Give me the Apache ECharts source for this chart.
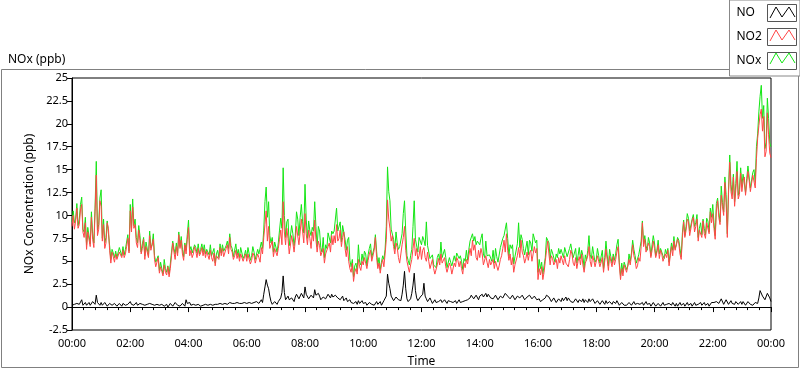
<!DOCTYPE html>
<html><head><meta charset="utf-8">
<script src="https://cdn.jsdelivr.net/npm/echarts@6/dist/echarts.min.js"></script>
<style>html,body{margin:0;padding:0;background:#fff;}#c{width:800px;height:369px;}</style>
</head><body><div id="c"></div>
<script>
// ---- data: samples every 5 minutes (…Values) plus the readings 2.5 minutes later (…Mid) ----
const stepMinutes = 5;
const seriesNames = ['NO', 'NO2', 'NOx'];
const timeLabels = ['00:00','02:00','04:00','06:00','08:00','10:00','12:00','14:00','16:00','18:00','20:00','22:00','00:00'];
const yTickValues = [-2.5,0,2.5,5,7.5,10,12.5,15,17.5,20,22.5,25];

const noValues = [
0.2,0.3,0.4,0.3,0.8,0.3,0.2,0.5,0.4,0.6,1.3,0.4,
0.5,0.3,0.4,0.2,0.5,0.3,0.4,0.2,0.3,0.4,0.2,0.3,
0.6,0.4,0.3,0.2,0.4,0.3,0.2,0.3,0.4,0.3,0.2,0.3,
0.2,0.3,0.1,0.3,0.2,0.2,0.3,0.4,0.3,0.2,0.3,0.8,
0.3,0.2,0.3,0.2,0.3,0.1,0.2,0.3,0.2,0.3,0.2,0.3,
0.3,0.4,0.3,0.4,0.3,0.5,0.4,0.4,0.5,0.4,0.4,0.5,
0.4,0.5,0.4,0.5,0.6,0.4,0.8,1.4,3.0,2.0,0.6,0.4,
0.5,0.6,1.0,3.4,0.8,1.2,0.6,0.9,1.1,1.4,1.0,1.3,
2.2,1.2,1.0,1.5,1.9,1.1,1.2,0.9,1.3,1.0,1.2,1.4,
1.0,1.5,1.2,0.9,0.7,1.0,0.6,0.5,0.4,0.6,0.7,0.5,
0.4,0.5,0.3,0.6,0.5,0.4,0.3,0.6,0.4,0.5,3.6,2.0,
1.0,0.8,1.2,1.0,1.4,3.9,0.9,0.6,1.5,3.7,1.0,0.8,
1.0,2.6,0.9,0.8,0.7,0.6,0.5,0.6,0.8,0.5,0.6,0.7,
0.6,0.5,0.7,0.6,0.5,0.6,0.7,0.8,1.0,1.2,1.0,1.1,
1.2,1.4,1.3,1.1,1.3,1.2,1.0,1.1,1.0,1.3,1.2,1.5,
1.2,1.0,1.1,0.9,1.3,1.0,1.1,0.8,1.0,1.2,0.9,1.1,
0.7,0.6,0.8,1.0,1.5,0.9,0.7,0.8,0.6,0.9,1.0,0.8,
0.7,0.9,0.8,0.6,0.7,0.8,0.6,0.5,0.7,0.9,0.6,0.7,
0.5,0.6,0.4,0.5,0.7,0.4,0.5,0.6,0.4,0.5,0.3,0.4,
0.4,0.3,0.5,0.4,0.3,0.4,0.3,0.5,0.4,0.3,0.4,0.3,
0.3,0.2,0.4,0.3,0.2,0.3,0.4,0.2,0.3,0.4,0.3,0.2,
0.4,0.3,0.2,0.4,0.3,0.2,0.3,0.5,0.3,0.2,0.4,0.3,
0.3,0.4,0.8,0.5,0.7,0.4,0.6,0.5,0.4,0.3,0.5,0.4,
0.3,0.4,0.3,0.5,0.4,0.3,0.6,1.0,2.0,1.4,0.9,1.6,
0.6];
const noMid = [
0.4,0.1,0.2,0.5,0.2,0.5,0.4,0.2,0.6,0.3,0.5,0.2,
0.2,0.5,0.1,0.4,0.2,0.4,0.1,0.4,0.1,0.2,0.4,0.1,
0.3,0.2,0.5,0.4,0.2,0.1,0.4,0.1,0.2,0.5,0.4,0.1,
0.4,0.1,0.3,0.0,0.4,0.1,0.5,0.2,0.1,0.4,0.1,0.4,
0.5,0.4,0.1,0.4,0.1,0.3,0.4,0.1,0.4,0.1,0.4,0.1,
0.1,0.2,0.5,0.2,0.5,0.3,0.2,0.6,0.3,0.6,0.2,0.3,
0.6,0.3,0.6,0.3,0.4,0.6,0.5,2.2,2.4,1.2,0.3,0.6,
0.3,0.8,1.6,1.6,0.6,0.8,1.0,0.6,1.4,0.9,1.5,1.0,
1.4,0.9,1.3,1.0,1.3,1.5,0.8,1.1,0.9,1.4,1.0,1.1,
1.3,1.0,0.8,1.2,0.9,0.6,0.8,0.3,0.6,0.3,0.4,0.7,
0.6,0.2,0.5,0.3,0.2,0.6,0.5,0.2,0.7,1.2,2.6,1.2,
0.7,1.1,0.8,0.7,2.4,2.0,0.6,0.9,2.4,1.8,0.7,1.1,
1.4,1.2,0.6,1.0,0.4,0.8,0.7,0.4,0.5,0.8,0.4,0.5,
0.8,0.7,0.4,0.8,0.7,0.4,0.9,0.6,1.3,0.9,1.3,0.8,
1.0,1.1,1.5,1.4,1.0,0.9,1.3,0.8,1.2,1.0,1.5,1.2,
0.9,1.3,0.8,1.2,1.0,1.3,0.8,1.1,1.3,0.9,1.2,0.8,
0.9,0.4,0.6,1.3,1.1,0.6,1.0,0.5,0.9,0.6,0.7,1.1,
1.0,0.6,0.5,0.9,0.5,0.6,0.9,0.8,0.5,0.6,0.9,0.4,
0.7,0.3,0.7,0.3,0.4,0.6,0.3,0.4,0.7,0.2,0.5,0.2,
0.2,0.5,0.2,0.6,0.5,0.2,0.5,0.2,0.6,0.5,0.1,0.5,
0.1,0.4,0.1,0.5,0.4,0.1,0.2,0.5,0.1,0.1,0.5,0.4,
0.1,0.5,0.4,0.1,0.5,0.4,0.1,0.2,0.5,0.4,0.1,0.5,
0.5,0.6,0.4,0.9,0.3,0.8,0.3,0.7,0.2,0.6,0.3,0.6,
0.6,0.2,0.6,0.3,0.2,0.5,0.4,1.8,1.2,0.8,1.5,1.0];

const no2Values = [
8.8,8.5,10.8,9.0,11.2,7.6,6.3,8.0,9.8,6.5,14.4,8.5,
11.0,9.0,7.0,8.6,4.8,5.5,5.8,5.1,6.0,6.2,5.8,7.5,
10.5,10.9,9.0,6.5,7.3,6.4,5.2,6.6,7.8,6.3,5.2,4.6,
3.7,3.9,4.6,3.5,3.3,5.6,6.0,6.6,7.9,7.3,5.1,5.8,
8.7,6.2,5.8,6.1,6.4,5.9,5.6,5.4,6.0,6.2,5.0,4.5,
5.8,6.5,6.4,5.6,6.8,7.6,6.0,5.6,5.3,5.0,6.0,5.2,
5.0,5.2,5.1,5.6,5.0,5.4,6.5,7.6,10.5,8.8,6.2,5.5,
6.6,6.4,8.4,11.5,6.8,7.5,6.0,7.0,7.3,8.6,8.2,8.3,
10.2,6.8,7.5,8.2,9.5,6.0,6.7,5.5,4.8,5.7,7.0,7.8,
7.8,9.0,7.5,6.6,8.2,5.5,5.0,3.8,2.8,4.2,5.2,4.0,
4.6,4.8,5.1,6.2,4.8,7.6,4.2,3.7,5.2,5.8,11.7,8.6,
7.8,5.8,6.5,4.8,6.8,8.8,5.0,3.8,5.2,7.5,6.4,5.6,
5.2,6.5,5.0,5.0,4.4,4.2,3.8,5.3,5.8,4.6,4.4,3.9,
4.4,3.8,4.4,5.1,5.0,3.6,4.3,4.7,6.4,7.3,6.8,5.1,
5.4,5.8,4.8,4.9,5.2,4.5,4.2,4.8,4.5,5.6,7.3,8.0,
5.1,4.6,3.8,4.4,6.5,7.3,5.6,5.3,5.1,6.2,5.8,5.9,
3.0,3.5,3.0,5.0,7.2,4.6,5.3,4.4,4.2,4.8,5.4,5.6,
5.0,5.2,5.8,4.5,4.2,5.5,5.8,3.8,4.6,6.6,4.4,5.1,
4.5,5.0,4.4,3.8,6.3,4.0,5.0,5.5,5.2,6.6,3.0,3.4,
4.4,4.0,4.6,6.8,5.1,4.5,5.0,9.2,7.4,5.8,6.6,6.2,
6.4,6.0,5.3,5.8,4.8,5.4,4.5,6.6,7.2,6.3,7.0,5.2,
9.3,8.4,9.3,8.0,9.8,8.8,7.2,8.6,9.4,7.5,9.0,10.4,
10.2,7.4,11.6,9.0,11.0,13.6,7.6,15.8,11.8,11.0,14.8,12.3,
12.6,14.2,13.5,13.8,12.4,14.6,16.2,19.8,21.6,20.8,17.0,18.8,
16.3];
const no2Mid = [
10.0,9.4,8.6,10.6,8.2,9.2,8.2,6.6,7.4,10.4,7.8,11.6,
7.2,6.4,9.2,6.2,6.0,4.9,5.2,6.0,5.4,5.4,6.6,5.9,
8.2,8.6,7.0,8.4,5.8,7.4,6.6,5.4,6.2,7.4,4.4,5.4,
4.4,3.4,3.8,4.4,4.2,7.0,5.2,5.6,6.4,5.8,6.8,7.4,
5.6,5.4,6.6,5.4,5.6,6.5,6.3,6.1,5.2,5.4,5.9,5.6,
5.2,5.6,5.5,6.4,5.8,6.3,5.2,6.2,5.9,5.8,5.0,5.8,
5.8,4.7,5.9,4.8,5.8,4.9,5.8,9.0,7.2,6.4,7.2,6.4,
5.6,7.4,6.8,8.2,8.6,5.8,7.8,6.0,8.8,6.8,9.6,7.0,
8.0,8.4,6.4,7.2,7.4,7.2,5.6,6.4,5.8,6.6,6.0,6.8,
7.0,7.2,8.4,7.6,6.4,6.6,4.2,4.8,3.8,3.6,4.4,5.0,
5.4,4.2,5.8,5.0,6.2,5.4,4.8,4.6,4.4,7.4,9.6,7.2,
6.6,7.0,5.4,5.8,7.6,6.2,4.4,4.6,6.4,5.6,5.2,6.6,
6.2,5.4,6.0,4.2,5.2,3.6,4.6,4.6,4.8,5.4,3.8,4.8,
3.6,4.8,5.4,4.4,4.2,4.8,5.2,5.6,5.6,6.2,5.4,6.2,
6.4,4.6,5.6,4.3,4.6,5.2,5.0,4.0,5.2,6.4,6.0,6.2,
5.8,5.4,4.6,5.6,5.4,6.0,4.8,6.0,5.9,5.0,6.6,6.4,
4.2,4.4,3.8,6.2,5.8,5.6,4.6,5.2,5.4,5.6,4.6,4.8,
4.4,6.2,4.8,5.4,5.0,4.6,4.6,4.8,5.6,5.0,5.6,4.4,
5.6,4.4,5.4,5.0,5.2,5.6,4.4,4.6,6.0,4.6,4.2,4.6,
3.8,5.2,5.6,5.6,4.2,5.4,6.6,6.6,6.0,7.0,5.4,7.2,
5.4,6.8,6.2,5.0,5.8,6.2,5.6,5.6,6.2,7.4,5.8,7.6,
7.6,9.6,7.8,9.4,8.2,9.6,8.4,7.6,8.0,9.2,8.0,9.2,
8.6,10.6,9.8,12.2,10.0,11.4,12.4,12.6,14.2,12.8,11.8,14.6,
13.8,12.2,14.8,12.6,14.4,13.0,18.4,21.0,19.2,16.4,21.2,16.8];

const noxValues = [
9.3,9.2,11.3,9.6,12.0,8.2,6.8,8.6,10.4,7.0,15.9,9.0,
12.8,9.6,7.6,9.4,5.2,5.9,6.1,5.4,6.5,6.6,6.3,7.9,
11.2,11.8,9.6,7.0,7.8,6.9,5.6,7.0,8.3,6.8,5.6,5.0,
4.0,4.2,5.2,3.8,3.6,6.0,6.4,7.0,8.2,7.7,5.5,6.2,
9.5,6.6,6.1,6.5,6.9,6.3,6.0,5.8,6.4,6.8,5.4,4.8,
6.2,6.9,6.8,6.0,7.2,8.0,6.4,6.2,5.7,5.4,6.5,5.6,
5.4,5.8,5.6,6.0,5.4,5.8,7.1,8.4,13.1,11.5,7.0,6.0,
7.0,7.0,9.7,15.2,7.6,9.6,6.6,8.0,7.8,9.6,9.8,9.3,
13.4,7.5,8.3,8.7,11.5,6.6,8.3,6.0,5.4,6.4,8.3,8.3,
8.3,10.8,8.2,7.1,9.0,6.2,7.6,4.4,3.3,4.8,6.8,4.6,
5.0,5.8,5.7,6.9,5.2,7.9,4.6,4.1,5.6,6.3,15.3,11.6,
8.5,6.3,7.0,6.6,8.0,11.6,5.6,4.6,6.3,11.6,7.2,7.6,
6.8,7.3,9.3,6.6,5.2,4.6,4.3,5.8,7.1,5.2,5.4,4.5,
4.9,4.4,5.0,5.8,5.6,4.1,5.0,5.1,7.2,8.0,7.7,7.2,
6.8,8.0,5.4,5.6,5.7,5.0,4.8,5.5,5.0,6.5,7.8,9.2,
5.6,6.4,4.7,5.3,9.2,7.9,6.4,5.8,5.7,7.0,8.0,7.0,
3.8,4.2,3.6,5.4,7.8,5.3,5.9,4.9,5.4,5.8,6.4,6.5,
5.5,6.4,6.1,5.2,4.8,6.5,6.2,4.2,5.1,7.8,5.3,5.7,
5.2,5.6,4.9,4.2,7.2,4.5,5.5,5.8,5.8,7.4,3.4,3.8,
4.8,4.5,5.0,7.3,5.6,4.9,5.5,9.4,7.8,6.2,7.0,6.8,
7.0,6.2,5.8,6.0,5.3,5.8,4.9,7.0,7.7,6.8,7.3,5.5,
9.5,8.8,9.7,8.5,10.1,9.2,7.6,9.2,9.6,7.9,9.4,10.8,
11.2,7.8,11.9,9.3,11.4,14.2,8.0,16.6,12.3,11.5,15.9,12.8,
13.2,14.6,14.0,14.2,12.8,15.0,17.5,21.3,24.2,22.0,18.0,20.6,
17.5];
const noxMid = [
10.5,9.6,8.9,11.2,8.5,9.8,8.7,6.9,8.0,10.8,8.4,11.9,
7.5,7.0,9.4,6.7,6.3,5.4,5.4,6.5,5.6,5.7,7.1,6.1,
8.6,8.9,7.6,8.9,6.0,7.6,7.1,5.6,6.5,8.0,4.9,5.6,
4.9,3.6,4.2,4.5,4.7,7.2,5.8,5.9,6.6,6.3,7.0,7.9,
6.2,5.9,6.8,5.9,5.8,6.9,6.8,6.3,5.7,5.6,6.4,5.8,
5.4,5.9,6.1,6.7,6.4,6.7,5.5,6.9,6.3,6.5,5.3,6.2,
6.5,5.1,6.6,5.2,6.3,5.6,6.4,11.5,9.8,7.8,7.6,7.1,
6.0,8.4,8.6,10.0,9.3,6.7,8.9,6.7,10.4,7.8,11.2,8.1,
9.6,9.4,7.8,8.3,8.8,8.8,6.5,7.6,6.8,8.1,7.0,8.0,
8.4,8.3,9.3,8.9,7.4,7.3,5.1,5.2,4.5,4.0,4.9,5.8,
6.1,4.5,6.4,5.4,6.5,6.1,5.4,4.9,5.2,8.8,12.6,8.5,
7.4,8.2,6.3,6.5,10.2,8.3,5.1,5.6,8.8,7.4,6.0,7.8,
7.7,6.7,6.7,5.3,5.7,4.5,5.4,5.1,5.4,6.3,4.3,5.4,
4.5,5.6,5.9,5.3,5.0,5.3,6.2,6.3,7.0,7.2,6.8,7.1,
7.5,5.8,7.2,5.8,5.7,6.2,6.4,4.9,6.5,7.5,7.6,7.5,
6.8,6.8,5.5,6.9,6.5,7.4,5.7,7.2,7.3,6.1,7.9,7.3,
5.2,4.9,4.5,7.6,7.0,6.3,5.7,5.8,6.4,6.3,5.4,6.0,
5.5,6.9,5.4,6.4,5.6,5.3,5.6,5.7,6.2,5.7,6.6,4.9,
6.4,4.8,6.2,5.4,5.7,6.3,4.8,5.1,6.8,4.9,4.8,4.9,
4.1,5.8,5.9,6.3,4.8,5.7,7.2,6.9,6.7,7.6,5.6,7.8,
5.6,7.3,6.4,5.6,6.3,6.4,5.9,6.2,6.4,7.6,6.4,8.1,
7.8,10.2,8.3,9.6,8.8,10.1,8.6,7.9,8.6,9.7,8.2,9.8,
9.2,11.3,10.3,13.2,10.4,12.3,12.8,13.4,14.5,13.5,12.2,15.2,
14.5,12.5,15.4,13.0,14.7,13.6,18.9,23.0,20.6,17.3,22.8,17.9];

// ---- styling ----
const FONT = 'Noto Sans';
const COLOR_NO = '#000000';
const COLOR_NO2 = '#ff4646';
const COLOR_NOX = '#14e614';

// interleave the 5-minute readings with the readings taken half a step later
function toPairs(onStep, halfStep) {
  const out = [];
  for (let i = 0; i < onStep.length; i++) {
    out.push([i * stepMinutes, onStep[i]]);
    if (i < halfStep.length) out.push([i * stepMinutes + stepMinutes / 2, halfStep[i]]);
  }
  return out;
}

const chart = echarts.init(document.getElementById('c'), null, {renderer: 'canvas'});

const zig = [[2,14],[8,3],[14,13],[21,3],[27,13]];
function zigLine(top, color) {
  return {
    type: 'polyline', z: 100, silent: true,
    shape: {points: zig.map(p => [768 + p[0], top + p[1]])},
    style: {stroke: color, lineWidth: 1, fill: null}
  };
}

const option = {
  animation: false,
  backgroundColor: '#fff',
  textStyle: {fontFamily: FONT},
  title: {
    text: 'NOx (ppb)', left: 3, top: 49,
    textStyle: {fontFamily: FONT, fontSize: 12, fontWeight: 'normal', color: '#000'}
  },
  legend: {
    data: seriesNames, orient: 'vertical', right: 0, top: 0, align: 'right',
    itemWidth: 29, itemHeight: 17, itemGap: 6, padding: [4, 3, 6, 7],
    borderColor: '#888', borderWidth: 1, backgroundColor: '#fff',
    icon: 'rect', selectedMode: false,
    itemStyle: {color: '#fff', borderColor: '#555', borderWidth: 1},
    lineStyle: {width: 0, opacity: 0},
    formatter: name => '{a|' + name + '}',
    textStyle: {fontFamily: FONT, fontSize: 12, color: '#000',
      rich: {a: {width: 26, align: 'left', fontFamily: FONT, fontSize: 12, color: '#000'}}}
  },
  grid: {left: 72, right: 29, top: 78, bottom: 39, show: true, borderColor: '#000', borderWidth: 1,
    backgroundColor: '#fff', containLabel: false, outerBoundsMode: 'none'},
  xAxis: {
    type: 'value', min: 0, max: 1440, interval: 120,
    name: 'Time', nameLocation: 'middle', nameGap: 26,
    nameTextStyle: {fontFamily: FONT, fontSize: 12, color: '#000'},
    axisLine: {show: true, lineStyle: {color: '#000'}},
    axisTick: {show: true, length: 5, lineStyle: {color: '#000'}},
    minorTick: {show: true, splitNumber: 5, length: 3, lineStyle: {color: '#000'}},
    axisLabel: {fontFamily: FONT, fontSize: 11, color: '#000', margin: 8,
      formatter: v => timeLabels[Math.round(v / 120)]},
    splitLine: {show: false}
  },
  yAxis: {
    type: 'value', min: yTickValues[0], max: yTickValues[yTickValues.length - 1], interval: 2.5,
    name: 'NOx Concentration (ppb)', nameLocation: 'middle', nameGap: 30,
    nameTextStyle: {fontFamily: FONT, fontSize: 12, color: '#000'},
    axisLine: {show: true, lineStyle: {color: '#000'}},
    axisTick: {show: true, length: 5, lineStyle: {color: '#000'}},
    axisLabel: {fontFamily: FONT, fontSize: 11, color: '#000', margin: 4},
    splitLine: {show: false}
  },
  series: [
    {name: 'NOx', type: 'line', data: toPairs(noxValues, noxMid), symbol: 'none', showSymbol: false,
      lineStyle: {width: 1, color: COLOR_NOX}, itemStyle: {color: COLOR_NOX}, z: 2},
    {name: 'NO2', type: 'line', data: toPairs(no2Values, no2Mid), symbol: 'none', showSymbol: false,
      lineStyle: {width: 1, color: COLOR_NO2}, itemStyle: {color: COLOR_NO2}, z: 3},
    {name: 'NO', type: 'line', data: toPairs(noValues, noMid), symbol: 'none', showSymbol: false,
      lineStyle: {width: 1, color: COLOR_NO}, itemStyle: {color: COLOR_NO}, z: 4}
  ],
  graphic: [
    {type: 'polyline', z: -10, silent: true,
      shape: {points: [[730, 69.5], [1.5, 69.5], [1.5, 367.5], [798.5, 367.5], [798.5, 72]]},
      style: {stroke: '#808080', lineWidth: 1, fill: null}},
    zigLine(4, COLOR_NO), zigLine(27, COLOR_NO2), zigLine(50, COLOR_NOX)
  ]
};
chart.setOption(option);
</script>
</body></html>
